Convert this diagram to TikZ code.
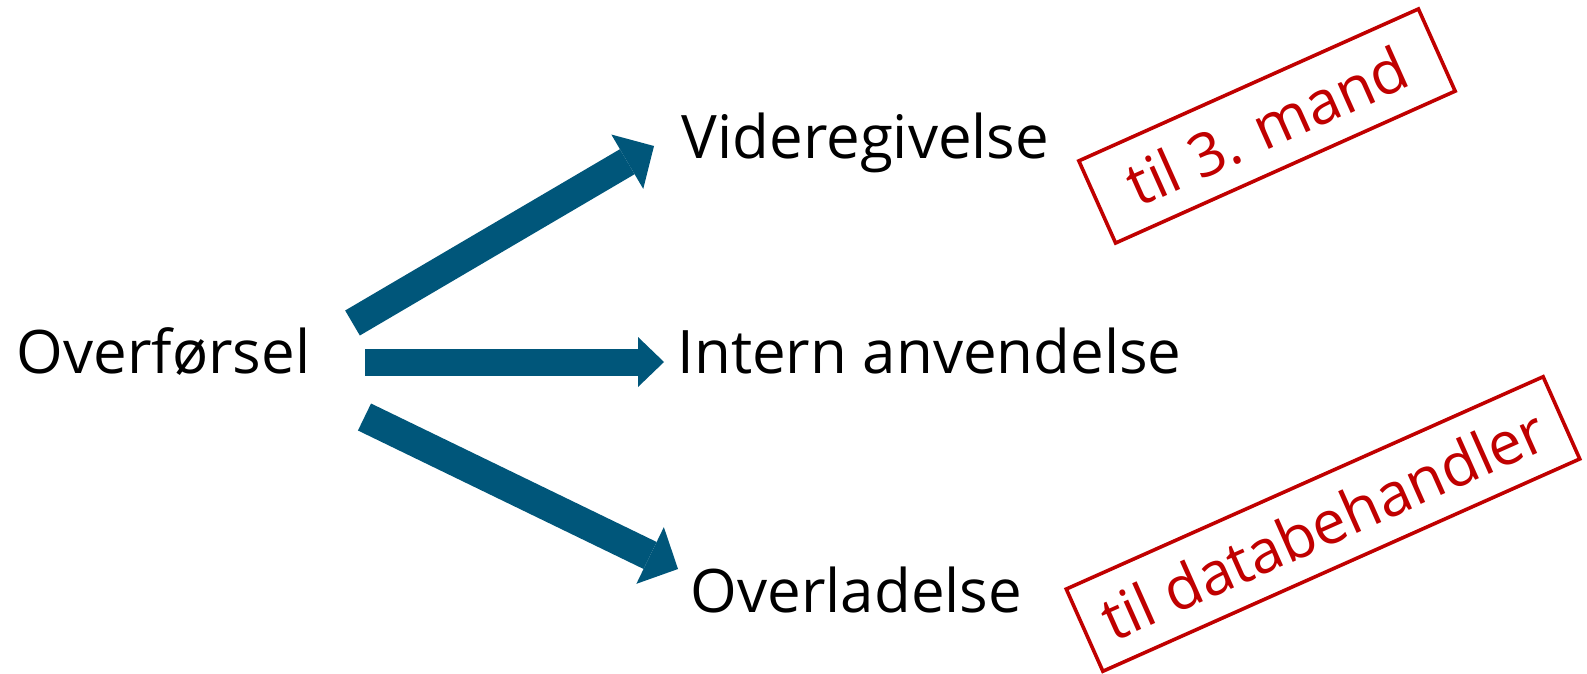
\documentclass[tikz,border=0pt]{standalone}
\usepackage{fontspec}
\setmainfont{Open Sans}
\usetikzlibrary{arrows.meta}
\definecolor{arrowblue}{HTML}{00567A}
\definecolor{stampred}{HTML}{C00000}
\tikzset{
  label/.style={inner sep=0pt, anchor=base, font=\fontsize{60}{72}\selectfont, text=black},
  bigarrow/.style={draw=arrowblue, fill=arrowblue, line width=29pt,
    -{Triangle[length=31pt, width=63pt, line width=0pt]}},
  stamp/.style={draw=stampred, line width=3.6pt, text=stampred, inner sep=0pt,
    minimum height=90pt, font=\fontsize{60}{72}\selectfont}
}
\begin{document}
\begin{tikzpicture}[x=1pt, y=-1pt]
\useasboundingbox (0,0) rectangle (1587,674);
\node[label] (src) at (163.5,373) {Overførsel};
\node[label] (vid) at (865.5,158) {Videregivelse};
\node[label] (int) at (929.5,373) {Intern anvendelse};
\node[label] (ovl) at (856.5,612) {Overladelse};
\coordinate (t1) at (352.5,323);
\coordinate (h1) at (654,146);
\coordinate (t2) at (365,362);
\coordinate (h2) at (664,362);
\coordinate (t3) at (364.5,417);
\coordinate (h3) at (678,569);
\draw[bigarrow] (t1) -- (h1);
\draw[bigarrow, line width=27pt, -{Triangle[length=26pt, width=50pt, line width=0pt]}] (t2) -- (h2);
\draw[bigarrow, line width=30pt] (t3) -- (h3);
\node[stamp, minimum width=372pt, rotate=24.1] (s1) at (1267,126) {til 3. mand};
\node[stamp, minimum width=522pt, rotate=24.0] (s2) at (1323,524) {til databehandler};
\end{tikzpicture}
\end{document}
